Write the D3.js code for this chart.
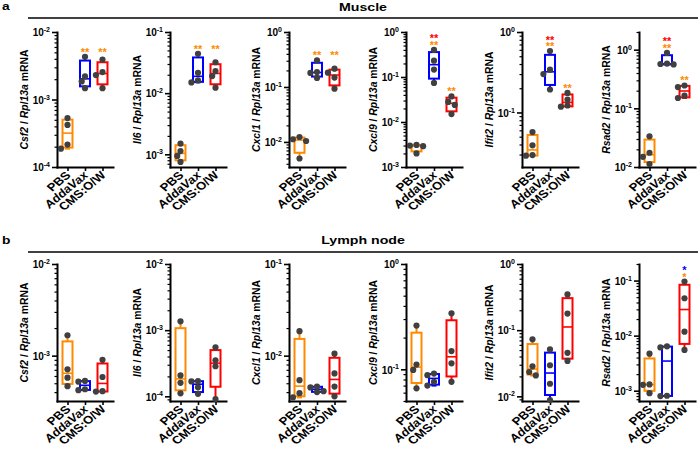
<!DOCTYPE html>
<html><head><meta charset="utf-8">
<script src="https://cdn.jsdelivr.net/npm/d3@7"></script>
<style>
body{margin:0;background:#fff}
svg{display:block}
text{font-family:"Liberation Sans",Arial,sans-serif;font-weight:bold;fill:#000}
</style>
</head><body>
<svg id="chart" width="698" height="452"></svg>
<script>
// ---------------- data ----------------
const categories = ["PBS", "AddaVax", "CMS:O/W"];
const genes = ["Csf2", "Il6", "Cxcl1", "Cxcl9", "Ifit2", "Rsad2"];
const tissues = ["Muscle", "Lymph node"];
const panelLetters = ["a", "b"];

// values per group [PBS, AddaVax, CMS:O/W], n = 4 mice each
const muscleCsf2  = [[5.3e-4, 4.2e-4, 2.15e-4, 1.87e-4], [4.3e-3, 2.2e-3, 1.85e-3, 1.47e-3], [3.9e-3, 2.55e-3, 2.3e-3, 1.47e-3]];
const muscleIl6   = [[1.5e-3, 1.13e-3, 9.4e-4, 7.5e-4], [4.4e-2, 2.15e-2, 1.62e-2, 1.5e-2], [3.2e-2, 2.3e-2, 1.9e-2, 1.23e-2]];
const muscleCxcl1 = [[1.23e-2, 1.12e-2, 1.04e-2, 5.0e-3], [0.305, 0.187, 0.18, 0.146], [0.215, 0.182, 0.148, 0.093]];
const muscleCxcl9 = [[3.1e-3, 3.0e-3, 2.9e-3, 2.0e-3], [0.4, 0.23, 0.146, 0.074], [0.037, 0.028, 0.024, 0.015]];
const muscleIfit2 = [[0.057, 0.039, 0.0295, 0.029], [0.58, 0.34, 0.30, 0.193], [0.175, 0.145, 0.122, 0.118]];
const muscleRsad2 = [[0.0333, 0.0175, 0.0149, 0.0112], [0.88, 0.58, 0.57, 0.56], [0.245, 0.23, 0.165, 0.15]];

const lymphCsf2  = [[1.67e-3, 7.1e-4, 5.75e-4, 4.64e-4], [5.3e-4, 5.2e-4, 4.3e-4, 4.2e-4], [9.0e-4, 5.85e-4, 4.1e-4, 4.05e-4]];
const lymphIl6   = [[1.36e-3, 2.07e-4, 1.6e-4, 1.11e-4], [1.7e-4, 1.68e-4, 1.37e-4, 1.09e-4], [5.5e-4, 3.5e-4, 2.85e-4, 9.1e-5]];
const lymphCxcl1 = [[1.85e-2, 5.4e-3, 3.9e-3, 3.5e-3], [4.6e-3, 4.5e-3, 4.1e-3, 4.0e-3], [1.05e-2, 6.4e-3, 4.6e-3, 3.6e-3]];
const lymphCxcl9 = [[0.26, 0.111, 0.0986, 0.066], [0.091, 0.088, 0.076, 0.07], [0.34, 0.149, 0.114, 0.076]];
const lymphIfit2 = [[0.0728, 0.0284, 0.0233, 0.0207], [0.0512, 0.0295, 0.0155, 0.0088], [0.347, 0.178, 0.0455, 0.0343]];
const lymphRsad2 = [[4.7e-3, 1.3e-3, 1.28e-3, 9.0e-4], [6.4e-3, 6.1e-3, 8.1e-4, 8.0e-4], [0.096, 0.0478, 0.0118, 5.5e-3]];

// y-axis (log) domains per gene
const muscleDomains = [[1e-4, 1e-2], [6.2e-4, 1e-1], [3.5e-3, 1], [1e-3, 1], [0.021, 1], [0.01, 2]];
const lymphDomains  = [[3.2e-4, 1e-2], [8.5e-5, 1e-2], [3.2e-3, 1e-1], [0.05, 1], [8.5e-3, 1], [6.5e-4, 0.2]];

// significance marks: group index, stacked marks (bottom to top) as colour keys
const muscleStarText = "**";
const lymphStarText = "*";
const muscleStars = [
  {align: true,  marks: [{g: 1, rows: ["PBS"]}, {g: 2, rows: ["PBS"]}]},
  {align: true,  marks: [{g: 1, rows: ["PBS"]}, {g: 2, rows: ["PBS"]}]},
  {align: true,  marks: [{g: 1, rows: ["PBS"]}, {g: 2, rows: ["PBS"]}]},
  {align: false, marks: [{g: 1, rows: ["PBS", "CMS:O/W"]}, {g: 2, rows: ["PBS"]}]},
  {align: false, marks: [{g: 1, rows: ["PBS", "CMS:O/W"]}, {g: 2, rows: ["PBS"]}]},
  {align: false, marks: [{g: 1, rows: ["PBS", "CMS:O/W"]}, {g: 2, rows: ["PBS"]}]}
];
const lymphStars = [
  {align: false, marks: []}, {align: false, marks: []}, {align: false, marks: []},
  {align: false, marks: []}, {align: false, marks: []},
  {align: false, marks: [{g: 2, rows: ["PBS", "AddaVax"]}]}
];

const groupColors = {"PBS": "#FF8A00", "AddaVax": "#0000FF", "CMS:O/W": "#FF0000"};

// ---------------- layout ----------------
const svg = d3.select("#chart");
const axisXs = [57, 170, 289, 406, 522, 639];
const plotW = 56;
const stretch = 1.2;
const rowsLayout = [
  {top: 32, bottom: 167, lineY: 18, titleY: 11, data: [muscleCsf2, muscleIl6, muscleCxcl1, muscleCxcl9, muscleIfit2, muscleRsad2], domains: muscleDomains, stars: muscleStars, starText: muscleStarText},
  {top: 264, bottom: 401, lineY: 252, titleY: 243.5, data: [lymphCsf2, lymphIl6, lymphCxcl1, lymphCxcl9, lymphIfit2, lymphRsad2], domains: lymphDomains, stars: lymphStars, starText: lymphStarText}
];

function quant(sorted, p) {
  const r = (sorted.length + 1) * p - 1;
  const lo = Math.max(0, Math.floor(r)), hi = Math.min(sorted.length - 1, Math.ceil(r));
  return sorted[lo] + (r - lo) * (sorted[hi] - sorted[lo]);
}
function swarm(vals, y) {
  const pts = vals.map(v => ({v, py: y(v)})).sort((a, b) => a.py - b.py);
  const placed = [];
  const cands = [0, -3.3, 3.3, -6.6, 6.6];
  pts.forEach(p => {
    p.dx = 0;
    for (const dx of cands) {
      if (placed.every(q => Math.hypot(q.dx - dx, q.py - p.py) >= 5.8)) { p.dx = dx; break; }
    }
    placed.push(p);
  });
  return pts;
}

rowsLayout.forEach((row, ri) => {
  // panel letter, header line and title
  svg.append("text").attr("transform", `translate(2,${row.lineY - 8.5}) scale(${stretch},1)`).attr("font-size", 11.5).text(panelLetters[ri]);
  svg.append("line").attr("x1", 28).attr("x2", 698).attr("y1", row.lineY).attr("y2", row.lineY)
    .attr("stroke", "#000").attr("stroke-width", 1.6);
  svg.append("text").attr("transform", `translate(363,${row.titleY}) scale(${stretch},1)`).attr("text-anchor", "middle")
    .attr("font-size", 11.8).text(tissues[ri]);

  genes.forEach((gene, gi) => {
    const ax = axisXs[gi];
    const dom = row.domains[gi];
    const y = d3.scaleLog().domain(dom).range([row.bottom, row.top]);
    const x = d3.scalePoint().domain(categories).range([ax, ax + plotW]).padding(0.6);
    const g = svg.append("g");

    // minor / major ticks
    const kLo = Math.floor(Math.log10(dom[0]) + 1e-9), kHi = Math.ceil(Math.log10(dom[1]) - 1e-9);
    const majors = [], minors = [];
    for (let k = kLo; k <= kHi; k++) {
      const v = Math.pow(10, k);
      if (v >= dom[0] * 0.999 && v <= dom[1] * 1.001) majors.push(v);
      for (let m = 2; m <= 9; m++) {
        const mv = m * v;
        if (mv >= dom[0] * 0.999 && mv <= dom[1] * 1.001) minors.push(mv);
      }
    }
    const yMinor = g.append("g").attr("transform", `translate(${ax},0)`)
      .call(d3.axisLeft(y).tickValues(minors).tickSize(2.5).tickSizeOuter(0).tickFormat(""));
    yMinor.select(".domain").remove();
    yMinor.selectAll(".tick line").attr("stroke-width", 1.2);
    const yMajor = g.append("g").attr("transform", `translate(${ax},0)`)
      .call(d3.axisLeft(y).tickValues(majors).tickSize(5).tickSizeOuter(0).tickFormat(""));
    yMajor.select(".domain").attr("stroke-width", 2).attr("stroke-linecap", "square");
    yMajor.selectAll(".tick line").attr("stroke-width", 1.6);
    yMajor.selectAll(".tick").each(function(v) {
      const t = d3.select(this).append("text").attr("x", -7).attr("y", 3.8)
        .attr("text-anchor", "end").attr("font-size", 10).attr("fill", "#000");
      t.append("tspan").text("10");
      t.append("tspan").attr("dy", -4.2).attr("font-size", 7).text(String(Math.round(Math.log10(v))));
    });

    // x axis
    const xa = g.append("g").attr("transform", `translate(0,${row.bottom})`)
      .call(d3.axisBottom(x).tickSize(4).tickSizeOuter(0).tickFormat(""));
    xa.select(".domain").attr("stroke-width", 2).attr("stroke-linecap", "square");
    xa.selectAll(".tick line").attr("stroke-width", 1.6);
    categories.forEach(c => {
      const t = g.append("text")
        .attr("transform", `translate(${x(c) + 4},${row.bottom + 9}) scale(${stretch},1) rotate(-45)`)
        .attr("text-anchor", "end").attr("font-size", 11).text(c);
      if (c === "AddaVax") t.attr("font-style", "italic");
    });

    // y title
    const midY = (row.top + row.bottom) / 2;
    const yt = g.append("text").attr("transform", `translate(${ax - 29},${midY}) scale(1.12,1) rotate(-90)`)
      .attr("text-anchor", "middle").attr("font-size", 10.4);
    yt.append("tspan").attr("font-style", "italic").text(gene);
    yt.append("tspan").text(" / ");
    yt.append("tspan").attr("font-style", "italic").text("Rpl13a");
    yt.append("tspan").text(" mRNA");

    // boxes + points
    const groupsData = row.data[gi];
    const bw = 10;
    categories.forEach((c, ci) => {
      const vals = groupsData[ci].slice().sort((a, b) => a - b);
      const col = groupColors[c];
      const cx = x(c);
      const q1 = quant(vals, 0.25), med = quant(vals, 0.5), q3 = quant(vals, 0.75);
      const lo = vals[0], hi = vals[vals.length - 1];
      const bg = g.append("g");
      bg.append("line").attr("x1", cx).attr("x2", cx).attr("y1", y(hi)).attr("y2", y(q3)).attr("stroke", col).attr("stroke-width", 2);
      bg.append("line").attr("x1", cx).attr("x2", cx).attr("y1", y(q1)).attr("y2", y(lo)).attr("stroke", col).attr("stroke-width", 2);
      [hi, lo].forEach(v => bg.append("line").attr("x1", cx - 2.5).attr("x2", cx + 2.5).attr("y1", y(v)).attr("y2", y(v)).attr("stroke", col).attr("stroke-width", 2));
      bg.append("rect").attr("x", cx - bw / 2).attr("width", bw).attr("y", y(q3)).attr("height", Math.max(0.5, y(q1) - y(q3)))
        .attr("fill", "#fff").attr("stroke", col).attr("stroke-width", 2);
      bg.append("line").attr("x1", cx - bw / 2).attr("x2", cx + bw / 2).attr("y1", y(med)).attr("y2", y(med)).attr("stroke", col).attr("stroke-width", 1.6);
      swarm(groupsData[ci], y).forEach(p => {
        bg.append("circle").attr("cx", cx + p.dx).attr("cy", p.py).attr("r", 3.1).attr("fill", "#404040");
      });
    });

    // significance marks (one text per stack, rows as tspans)
    const st = row.stars[gi];
    let alignedBase = null;
    if (st.align && st.marks.length) {
      alignedBase = d3.min(st.marks, m => y(d3.max(groupsData[m.g]))) - 7;
    }
    st.marks.forEach(m => {
      const base = alignedBase !== null ? alignedBase : y(d3.max(groupsData[m.g])) - 7;
      const cx = x(categories[m.g]);
      const topRow = m.rows.length - 1;
      const t = g.append("text").attr("x", cx).attr("y", base - topRow * 6.5 + 6)
        .attr("text-anchor", "middle").attr("font-size", 11);
      m.rows.slice().reverse().forEach((key, k) => {
        const ts = t.append("tspan").attr("x", cx).style("fill", groupColors[key]).text(row.starText);
        if (k > 0) ts.attr("dy", 6.5);
      });
    });
  });
});
</script>
</body></html>
